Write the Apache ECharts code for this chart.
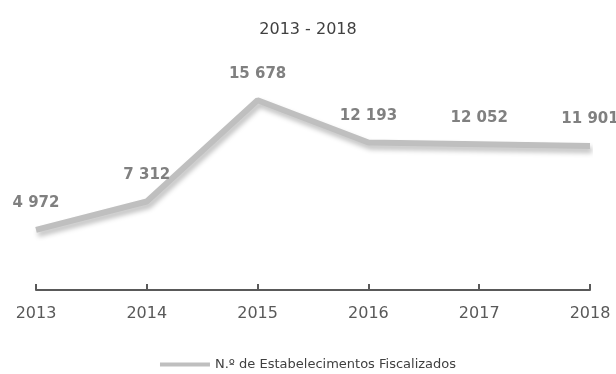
<!DOCTYPE html>
<html>
<head>
<meta charset="utf-8">
<script src="https://cdn.jsdelivr.net/npm/echarts@6/dist/echarts.min.js"></script>
<style>
  html, body { margin: 0; padding: 0; background: #fff; }
  #chart { width: 616px; height: 374px; }
</style>
</head>
<body>
<div id="chart"></div>
<script>
// dados
var anos = ['2013', '2014', '2015', '2016', '2017', '2018'];
var fiscalizados = [4972, 7312, 15678, 12193, 12052, 11901];
var nomeSerie = 'N.º de Estabelecimentos Fiscalizados';
var titulo = '2013 - 2018';

function espacoMilhares(v) {
  return String(v).replace(/\B(?=(\d{3})+(?!\d))/g, ' ');
}

var myChart = echarts.init(document.getElementById('chart'));
var fonte = 'DejaVu Sans';

var option = {
  animation: false,
  title: {
    text: titulo,
    left: 'center',
    top: 17,
    textStyle: { fontFamily: fonte, fontWeight: 'normal', fontSize: 16, color: '#404040' }
  },
  legend: {
    bottom: -2,
    left: 'center',
    itemWidth: 50,
    itemHeight: 4,
    itemGap: 4,
    icon: 'rect',
    textStyle: { fontFamily: fonte, fontSize: 13, color: '#404040' },
    data: [nomeSerie]
  },
  grid: { left: 36, right: 26, top: 48, bottom: 84 },
  xAxis: {
    type: 'category',
    data: anos,
    boundaryGap: false,
    axisLine: { lineStyle: { color: '#595959', width: 2 } },
    axisTick: { inside: true, length: 6, lineStyle: { color: '#595959', width: 2 } },
    axisLabel: { margin: 16, fontFamily: fonte, fontSize: 16, color: '#595959' }
  },
  yAxis: {
    type: 'value',
    min: 0,
    max: 20000,
    show: false,
    splitLine: { show: false }
  },
  series: [
    {
      name: nomeSerie,
      type: 'line',
      data: fiscalizados,
      symbol: 'circle',
      symbolSize: 0,
      showSymbol: true,
      itemStyle: { color: '#bfbfbf' },
      lineStyle: {
        color: '#bfbfbf',
        width: 6,
        shadowColor: 'rgba(0,0,0,0.25)',
        shadowBlur: 5,
        shadowOffsetX: 2,
        shadowOffsetY: 4
      },
      label: {
        show: true,
        position: 'top',
        distance: 19,
        fontFamily: fonte,
        fontWeight: 'bold',
        fontSize: 15,
        color: '#808080',
        formatter: function (p) { return espacoMilhares(p.value); }
      }
    }
  ]
};

myChart.setOption(option);
</script>
</body>
</html>
